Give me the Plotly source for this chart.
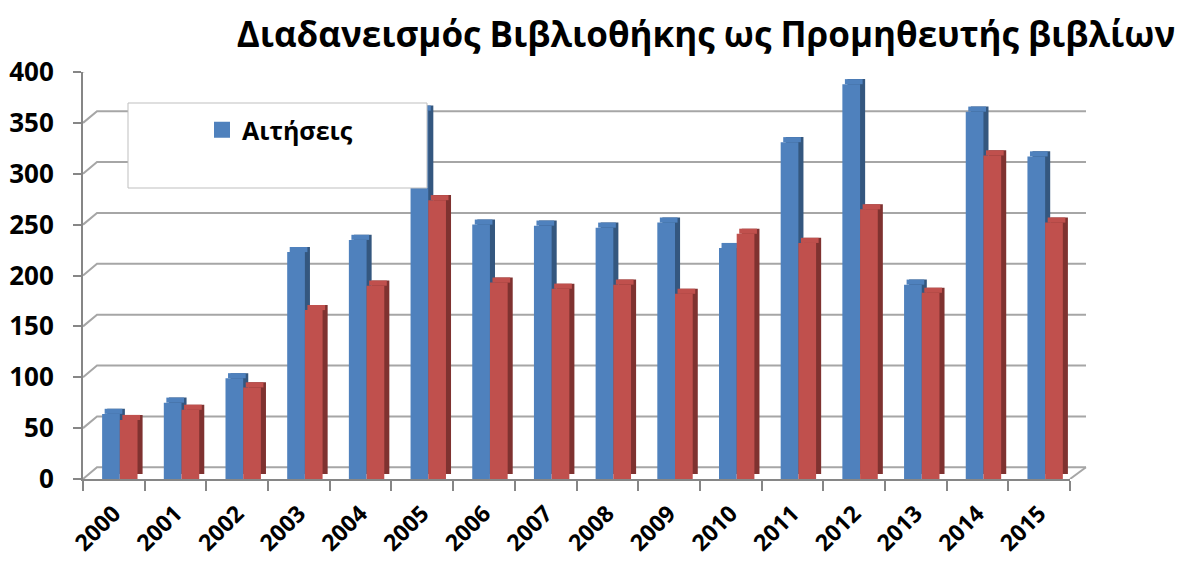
import plotly.graph_objects as go

years = [str(y) for y in range(2000, 2016)]
aitiseis = [64, 75, 99, 223, 235, 362, 250, 249, 247, 252, 227, 331, 388, 191, 361, 317]
second = [58, 68, 90, 166, 190, 274, 193, 187, 191, 182, 241, 232, 265, 183, 318, 252]
y_ticks = [0, 50, 100, 150, 200, 250, 300, 350, 400]

W, H = 1184, 562
L, R, T, B = 83, 114, 72, 83

BAR_W = 0.287
DEPTH_X = 0.082
DEPTH_Y = 5

WALL_DX = 14          # px shift of back wall
WALL_DY = 11.5        # in data units (approx 12 px)
WALL_RIGHT = 1086     # px, right end of back wall

BLUE, BLUE_D = "#4F81BD", "#34577F"
RED, RED_D = "#C0504D", "#7F3230"

fig = go.Figure()

def px_x(p):
    return (p - L) / (W - L - R)

def px_y(p):
    return (H - B - p) / (H - T - B)

# back wall grid lines with perspective connectors
for v in y_ticks:
    fig.add_shape(type="path", xref="paper", yref="y",
                  path=f"M 0,{v} L {px_x(L + WALL_DX)},{v + WALL_DY} L {px_x(WALL_RIGHT)},{v + WALL_DY}",
                  line=dict(color="#A6A6A6", width=2), layer="below")
# floor right edge
fig.add_shape(type="line", xref="paper", yref="y",
              x0=px_x(WALL_RIGHT), y0=WALL_DY, x1=1.0, y1=0,
              line=dict(color="#A6A6A6", width=2), layer="below")

def add_series(vals, off, front, side, name):
    fig.add_trace(go.Bar(x=years, y=vals, base=DEPTH_Y, offset=off + DEPTH_X, width=BAR_W,
                         marker=dict(color=side, line=dict(width=0)),
                         showlegend=False, hoverinfo="skip"))
    fig.add_trace(go.Bar(x=years, y=[DEPTH_Y] * len(vals), base=vals, offset=off + DEPTH_X / 2,
                         width=BAR_W, marker=dict(color=front, line=dict(width=0)),
                         showlegend=False, hoverinfo="skip"))
    fig.add_trace(go.Bar(x=years, y=vals, offset=off, width=BAR_W, name=name,
                         marker=dict(color=front, line=dict(width=0)),
                         showlegend=False))

add_series(aitiseis, -0.19, BLUE, BLUE_D, "Αιτήσεις")
add_series(second, 0.097, RED, RED_D, "Δανεισμοί")

# legend entry (only the first series is shown in the original legend)
fig.add_trace(go.Scatter(x=[None], y=[None], mode="markers", name="Αιτήσεις",
                         marker=dict(symbol="square", size=17, color=BLUE),
                         showlegend=True))

# legend box
fig.add_shape(type="rect", xref="paper", yref="paper",
              x0=px_x(128), x1=px_x(427), y0=px_y(188), y1=px_y(103),
              fillcolor="white", line=dict(color="#BFBFBF", width=1), layer="above")

fig.update_layout(
    width=W, height=H,
    margin=dict(l=L, r=R, t=T, b=B, autoexpand=False),
    barmode="overlay",
    plot_bgcolor="white", paper_bgcolor="white",
    font=dict(family="Open Sans", color="black"),
    title=dict(text="<b>Διαδανεισμός Βιβλιοθήκης ως Προμηθευτής βιβλίων</b>",
               x=706 / W, xanchor="center", y=1 - 35 / H, yanchor="middle",
               font=dict(size=35, family="Open Sans", color="black")),
    legend=dict(x=px_x(202), y=px_y(107), xanchor="left", yanchor="top",
                bgcolor="rgba(0,0,0,0)",
                font=dict(size=25, family="Open Sans", color="black", weight="bold"),
                itemsizing="trace"),
    xaxis=dict(type="category", categoryorder="array", categoryarray=years,
               tickangle=-45, tickfont=dict(size=23, family="Open Sans", color="black", weight="bold"),
               showline=True, linecolor="#868686", linewidth=2,
               ticks="outside", ticklen=10, tickcolor="#868686", tickwidth=2,
               ticklabelstandoff=10,
               tickson="boundaries", showgrid=False, range=[-0.5, 15.5], automargin=False),
    yaxis=dict(range=[0, 400], tickvals=y_ticks,
               tickfont=dict(size=26, family="Open Sans", color="black", weight="bold"),
               showline=True, linecolor="#868686", linewidth=2,
               ticks="outside", ticklen=8, tickcolor="#868686", tickwidth=2,
               ticklabelstandoff=14,
               showgrid=False, zeroline=False, automargin=False),
)

fig.write_html("out.html", config={"displayModeBar": False},
               post_script="document.body.style.margin='0';document.body.style.overflow='hidden';")
